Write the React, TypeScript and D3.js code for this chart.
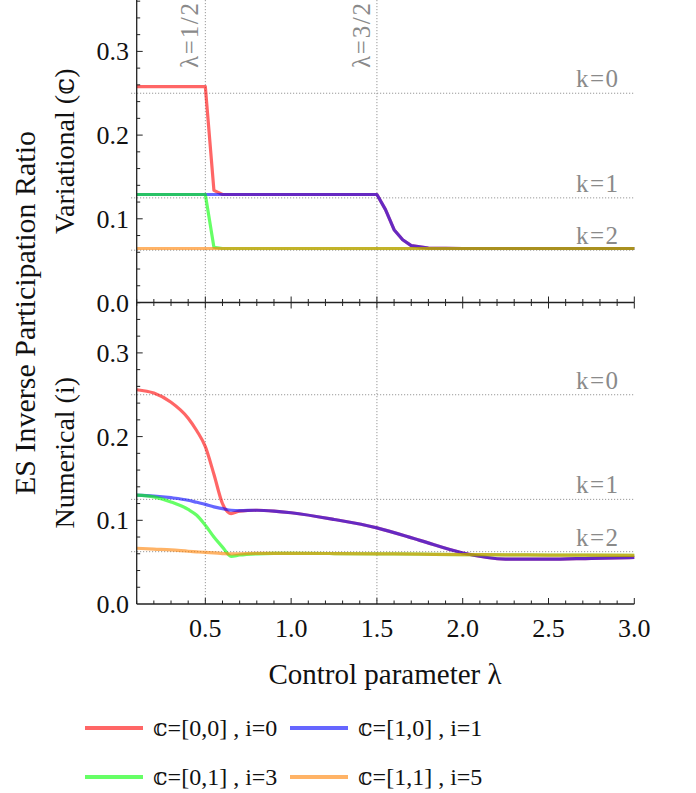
import * as d3 from 'd3';

// Variational panel (top): sampled lambda grid and IPR values per series
const lamVar = [0.1, 0.5, 0.55, 0.6, 1.0, 1.5, 1.55, 1.6, 1.65, 1.7, 1.8, 2.0, 2.5, 3.0];
const varRed = [0.258, 0.258, 0.134, 0.129, 0.129, 0.129, 0.111, 0.087, 0.075, 0.068, 0.065, 0.0645, 0.0645, 0.0645];
const varBlue = [0.129, 0.129, 0.129, 0.129, 0.129, 0.129, 0.111, 0.087, 0.075, 0.068, 0.065, 0.0645, 0.0645, 0.0645];
const varGreen = [0.129, 0.129, 0.066, 0.0645, 0.0645, 0.0645, 0.0645, 0.0645, 0.0645, 0.0645, 0.0645, 0.0645, 0.0645, 0.0645];
const varOrange = [0.0645, 0.0645, 0.0645, 0.0645, 0.0645, 0.0645, 0.0645, 0.0645, 0.0645, 0.0645, 0.0645, 0.0645, 0.0645, 0.0645];

// Numerical panel (bottom)
const lamNum = [0.1, 0.2, 0.3, 0.4, 0.45, 0.5, 0.55, 0.6, 0.65, 0.7, 0.8, 0.9, 1.0, 1.25, 1.5, 1.75, 2.0, 2.25, 2.5, 2.75, 3.0];
const numRed = [0.256, 0.252, 0.241, 0.222, 0.207, 0.188, 0.155, 0.12, 0.108, 0.111, 0.112, 0.111, 0.109, 0.101, 0.091, 0.076, 0.061, 0.0537, 0.0535, 0.0546, 0.0556];
const numBlue = [0.13, 0.129, 0.127, 0.124, 0.1215, 0.119, 0.116, 0.114, 0.112, 0.1115, 0.112, 0.111, 0.109, 0.101, 0.091, 0.076, 0.061, 0.0537, 0.0535, 0.0546, 0.0556];
const numGreen = [0.13, 0.128, 0.122, 0.113, 0.106, 0.094, 0.08, 0.068, 0.057, 0.0585, 0.06, 0.0605, 0.0605, 0.0603, 0.06, 0.0595, 0.059, 0.0588, 0.0585, 0.0583, 0.058];
const numOrange = [0.0666, 0.0655, 0.0646, 0.063, 0.0623, 0.0616, 0.061, 0.0603, 0.0598, 0.06, 0.0605, 0.0605, 0.0605, 0.0603, 0.06, 0.0595, 0.059, 0.0588, 0.0585, 0.0583, 0.058];

const seriesLabels = ['𝕔=[0,0] , i=0', '𝕔=[1,0] , i=1', '𝕔=[0,1] , i=3', '𝕔=[1,1] , i=5'];
const seriesColors = ['rgb(255,0,0)', 'rgb(0,0,255)', 'rgb(0,255,0)', 'rgb(255,128,0)'];

const kValues = [0.25, 0.125, 0.0625];
const kLabels = ['k=0', 'k=1', 'k=2'];
const transitions = [0.5, 1.5];
const transitionLabels = ['λ=1/2', 'λ=3/2'];

const serif = '"Liberation Serif", "Times New Roman", "DejaVu Serif", serif';

export default function App() {
  const width = 696;
  const height = 793;
  const left = 136.7;
  const right = 634.3;

  const x = d3.scaleLinear().domain([0.1, 3.0]).range([left, right]);
  const yTop = d3.scaleLinear().domain([0, 0.3614]).range([302.5, 0]);
  const yBot = d3.scaleLinear().domain([0, 0.3614]).range([604, 301.5]);

  const panels = [
    { y: yTop, lam: lamVar, vals: [varRed, varBlue, varGreen, varOrange], curve: d3.curveLinear, label: 'Variational (𝕔)' },
    { y: yBot, lam: lamNum, vals: [numRed, numBlue, numGreen, numOrange], curve: d3.curveMonotoneX, label: 'Numerical (i)' },
  ];

  const xMinor = d3.range(1, 31).map((i) => i / 10);
  const xMajor = [0.5, 1.0, 1.5, 2.0, 2.5, 3.0];
  const yMinor = d3.range(1, 19).map((i) => i / 50);
  const yMajor = [0, 0.1, 0.2, 0.3];
  const fmt = d3.format('.1f');

  return (
    <svg width={width} height={height} style={{ position: 'absolute', left: 0, top: 0, background: '#fff' }} fontFamily={serif}>
      {/* reference lines */}
      {panels.map((p, pi) =>
        kValues.map((k, ki) => (
          <g key={`k${pi}${ki}`}>
            <line x1={131} x2={right} y1={p.y(k)} y2={p.y(k)} stroke="#999" strokeWidth={1} strokeDasharray="1.2,1.8" />
            <text x={576} y={p.y(k) - 6} fontSize={25} fill="#8a8a8a" letterSpacing={1.5}>
              {kLabels[ki]}
            </text>
          </g>
        )),
      )}
      {transitions.map((t, i) => (
        <g key={`t${i}`}>
          <line x1={x(t)} x2={x(t)} y1={0} y2={606} stroke="#999" strokeWidth={1} strokeDasharray="1.2,1.8" />
          <text transform={`translate(${x(t) - 7},68) rotate(-90)`} fontSize={25} fill="#8a8a8a" textLength={65} lengthAdjust="spacing">
            {transitionLabels[i]}
          </text>
        </g>
      ))}

      {/* series */}
      {panels.map((p, pi) =>
        p.vals.map((vals, si) => {
          const line = d3
            .line<number>()
            .x((d, i) => x(p.lam[i]))
            .y((d) => p.y(d))
            .curve(p.curve);
          return (
            <path key={`s${pi}${si}`} d={line(vals) || ''} fill="none" stroke={seriesColors[si]} strokeOpacity={0.6} strokeWidth={3.2} strokeLinejoin="round" />
          );
        }),
      )}

      {/* axes */}
      <line x1={left} x2={left} y1={0} y2={604} stroke="#222" strokeWidth={1.3} />
      <line x1={left} x2={right} y1={302.5} y2={302.5} stroke="#222" strokeWidth={1.3} />
      <line x1={left} x2={right} y1={604} y2={604} stroke="#222" strokeWidth={1.3} />
      {xMinor.map((v) => {
        const major = xMajor.some((m) => Math.abs(m - v) < 1e-6);
        const len = major ? 6 : 3.5;
        return (
          <g key={`xt${v}`} stroke="#222" strokeWidth={1}>
            <line x1={x(v)} x2={x(v)} y1={302.5} y2={302.5 - len} />
            <line x1={x(v)} x2={x(v)} y1={302.5} y2={302.5 + len} />
            <line x1={x(v)} x2={x(v)} y1={604} y2={604 - len} />
          </g>
        );
      })}
      {xMajor.map((v) => (
        <text key={`xl${v}`} x={x(v)} y={637} fontSize={26} textAnchor="middle" fill="#111">
          {fmt(v)}
        </text>
      ))}
      {panels.map((p, pi) => (
        <g key={`ya${pi}`}>
          {yMinor.map((v) => {
            const major = yMajor.some((m) => Math.abs(m - v) < 1e-6);
            return <line key={`ym${v}`} x1={left} x2={left + (major ? 6 : 3.5)} y1={p.y(v)} y2={p.y(v)} stroke="#222" strokeWidth={1} />;
          })}
          {yMajor.map((v) => (
            <text key={`yl${v}`} x={129} y={p.y(v)} dy="0.35em" fontSize={26} textAnchor="end" fill="#111">
              {fmt(v)}
            </text>
          ))}
          <text transform={`translate(74,${(p.y.range()[0] + p.y.range()[1]) / 2}) rotate(-90)`} fontSize={28} textAnchor="middle" fill="#111">
            {p.label}
          </text>
        </g>
      ))}
      <text transform="translate(35,313) rotate(-90)" fontSize={30} textAnchor="middle" fill="#111">
        ES Inverse Participation Ratio
      </text>
      <text x={385} y={684} fontSize={29} textAnchor="middle" fill="#111">
        Control parameter λ
      </text>

      {/* legend */}
      {seriesLabels.map((lab, i) => {
        const col = i % 2;
        const row = Math.floor(i / 2);
        const lx = col === 0 ? 85 : 290;
        const ly = row === 0 ? 728 : 777;
        return (
          <g key={`lg${i}`}>
            <line x1={lx} x2={lx + 58} y1={ly} y2={ly} stroke={seriesColors[i]} strokeOpacity={0.6} strokeWidth={4} />
            <text x={lx + 68} y={ly + 8} fontSize={24} fill="#111">
              {lab}
            </text>
          </g>
        );
      })}
    </svg>
  );
}
